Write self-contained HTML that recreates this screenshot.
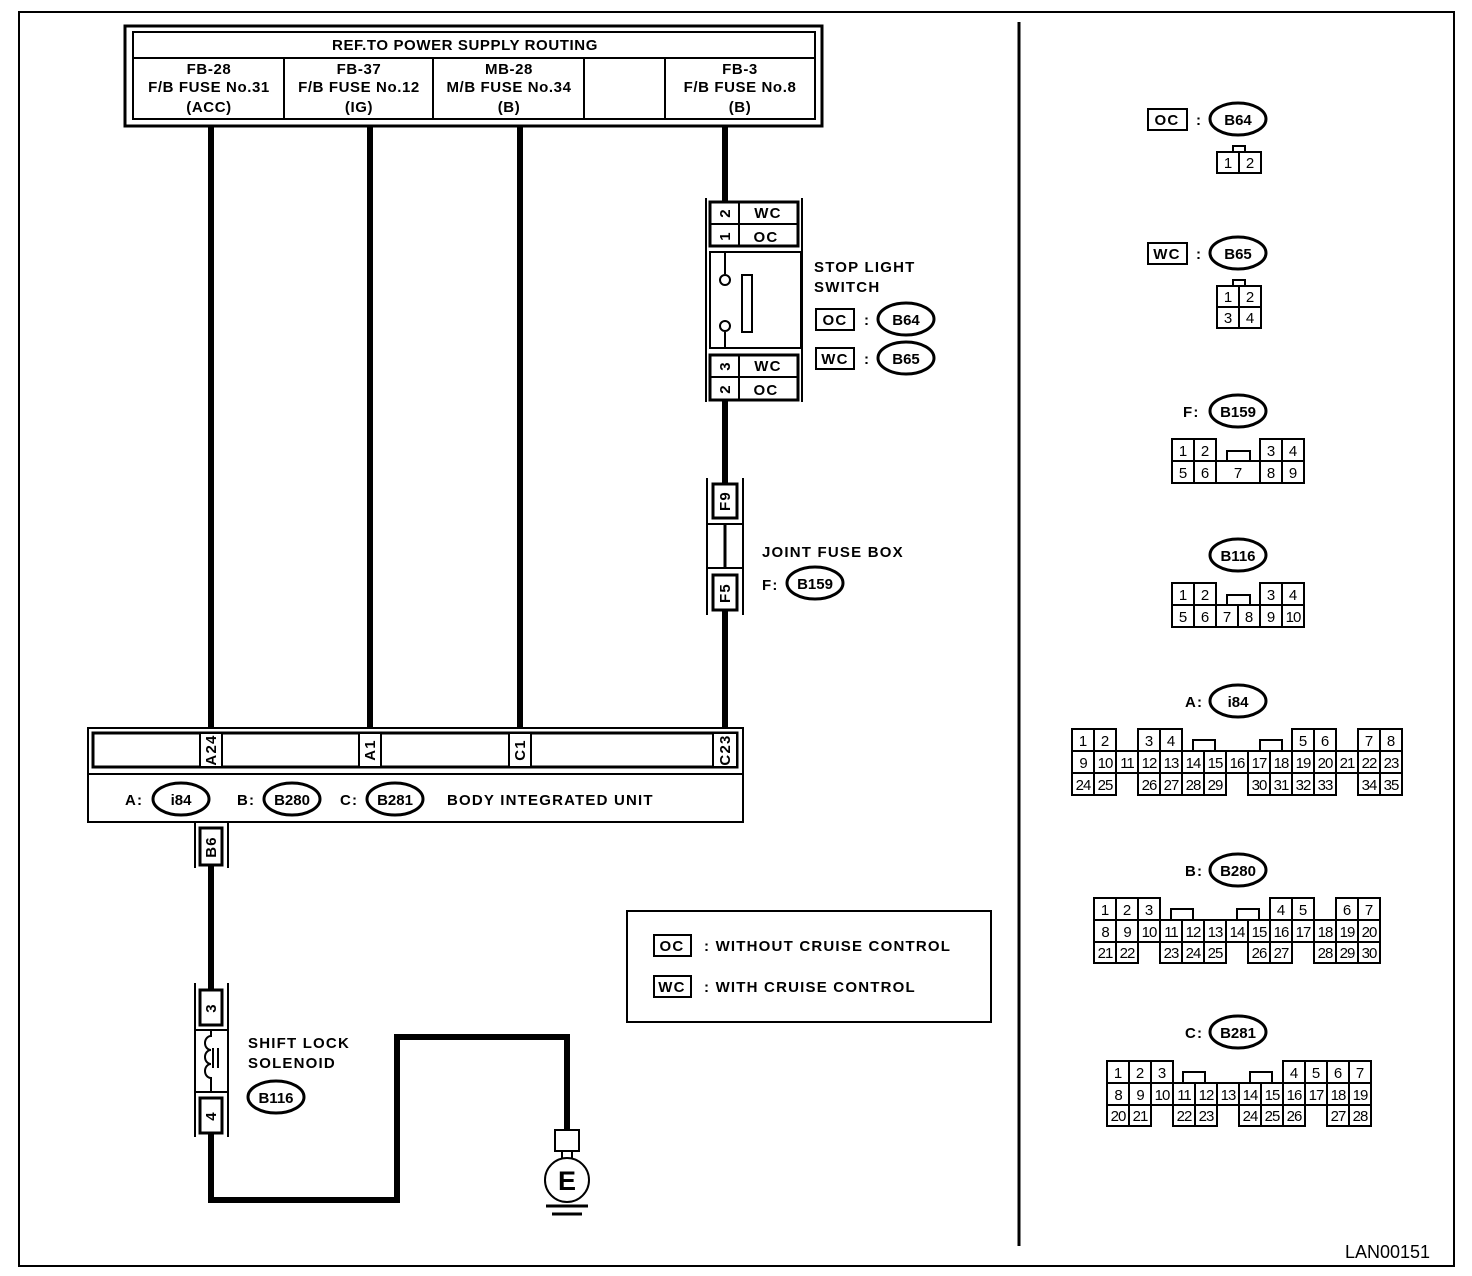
<!DOCTYPE html>
<html><head><meta charset="utf-8"><style>
html,body{margin:0;padding:0;background:#fff}
svg{display:block}
.b{font-family:"Liberation Sans",Arial,sans-serif;font-weight:bold;font-size:15px;letter-spacing:1.2px}
.n{font-family:"Liberation Sans",Arial,sans-serif;font-size:15px}
.c rect{fill:#fff;stroke:#000;stroke-width:2}
.c text{font-family:"Liberation Sans",Arial,sans-serif;font-size:15px;text-anchor:middle}
</style></head><body>
<svg width="1472" height="1276" viewBox="0 0 1472 1276" xmlns="http://www.w3.org/2000/svg">
<rect x="19" y="12" width="1435" height="1254" fill="none" stroke="#000" stroke-width="2"/>
<line x1="1019" y1="22" x2="1019" y2="1246" stroke="#000" stroke-width="3"/>
<text x="1345" y="1258" class="n" style="font-size:18px">LAN00151</text>

<g stroke="#000" stroke-width="6" fill="none">
<line x1="211" y1="124" x2="211" y2="735"/>
<line x1="370" y1="124" x2="370" y2="735"/>
<line x1="520" y1="124" x2="520" y2="735"/>
<line x1="725" y1="124" x2="725" y2="202"/>
<line x1="725" y1="400" x2="725" y2="483"/>
<line x1="725" y1="610" x2="725" y2="735"/>
<line x1="211" y1="865" x2="211" y2="990"/>
<polyline points="211,1133 211,1200 397,1200 397,1037 567,1037 567,1132"/>
</g>

<rect x="125" y="26" width="697" height="100" fill="#fff" stroke="#000" stroke-width="3"/>
<rect x="133" y="32" width="682" height="87" fill="none" stroke="#000" stroke-width="2"/>
<line x1="133" y1="58" x2="815" y2="58" stroke="#000" stroke-width="2"/>
<g stroke="#000" stroke-width="2"><line x1="284" y1="58" x2="284" y2="119"/><line x1="433" y1="58" x2="433" y2="119"/><line x1="584" y1="58" x2="584" y2="119"/><line x1="665" y1="58" x2="665" y2="119"/></g>
<g class="b" text-anchor="middle" style="letter-spacing:0.6px">
<text x="465" y="50">REF.TO POWER SUPPLY ROUTING</text>
<text x="209" y="74">FB-28</text><text x="209" y="92">F/B FUSE No.31</text><text x="209" y="112">(ACC)</text>
<text x="359" y="74">FB-37</text><text x="359" y="92">F/B FUSE No.12</text><text x="359" y="112">(IG)</text>
<text x="509" y="74">MB-28</text><text x="509" y="92">M/B FUSE No.34</text><text x="509" y="112">(B)</text>
<text x="740" y="74">FB-3</text><text x="740" y="92">F/B FUSE No.8</text><text x="740" y="112">(B)</text>
</g>

<g stroke="#000" fill="none">
<line x1="706" y1="198" x2="706" y2="402" stroke-width="2"/>
<line x1="802" y1="198" x2="802" y2="402" stroke-width="2"/>
<rect x="710" y="202" width="88" height="44" stroke-width="3" fill="#fff"/>
<line x1="710" y1="224" x2="798" y2="224" stroke-width="2"/>
<line x1="739" y1="202" x2="739" y2="246" stroke-width="2"/>
<rect x="710" y="252" width="91" height="96" stroke-width="2"/>
<rect x="710" y="355" width="88" height="45" stroke-width="3" fill="#fff"/>
<line x1="710" y1="377" x2="798" y2="377" stroke-width="2"/>
<line x1="739" y1="355" x2="739" y2="400" stroke-width="2"/>
<line x1="725" y1="252" x2="725" y2="274" stroke-width="2"/>
<circle cx="725" cy="280" r="5" stroke-width="2"/>
<line x1="725" y1="332" x2="725" y2="348" stroke-width="2"/>
<circle cx="725" cy="326" r="5" stroke-width="2"/>
<rect x="742" y="275" width="10" height="57" stroke-width="2"/>
</g>
<g class="b">
<text x="768" y="218" text-anchor="middle">WC</text><text x="766" y="242" text-anchor="middle">OC</text>
<text x="768" y="371" text-anchor="middle">WC</text><text x="766" y="395" text-anchor="middle">OC</text>
<text transform="translate(730,213) rotate(-90)" text-anchor="middle">2</text>
<text transform="translate(730,236) rotate(-90)" text-anchor="middle">1</text>
<text transform="translate(730,366) rotate(-90)" text-anchor="middle">3</text>
<text transform="translate(730,389) rotate(-90)" text-anchor="middle">2</text>
<text x="814" y="272">STOP LIGHT</text><text x="814" y="292">SWITCH</text>
</g>
<g stroke="#000" stroke-width="2" fill="#fff">
<rect x="816" y="309" width="38" height="21"/><rect x="816" y="348" width="38" height="21"/>
<ellipse cx="906" cy="319" rx="28" ry="16" stroke-width="3"/><ellipse cx="906" cy="358" rx="28" ry="16" stroke-width="3"/>
</g>
<g class="b">
<text x="835" y="325" text-anchor="middle">OC</text><text x="864" y="325">:</text><text x="906" y="325" text-anchor="middle" style="letter-spacing:0">B64</text>
<text x="835" y="364" text-anchor="middle">WC</text><text x="864" y="364">:</text><text x="906" y="364" text-anchor="middle" style="letter-spacing:0">B65</text>
</g>

<g stroke="#000" stroke-width="2" fill="#fff">
<line x1="707" y1="478" x2="707" y2="615"/><line x1="743" y1="478" x2="743" y2="615"/>
<rect x="713" y="484" width="24" height="34" stroke-width="3"/>
<rect x="713" y="575" width="24" height="35" stroke-width="3"/>
<line x1="707" y1="524" x2="743" y2="524"/><line x1="707" y1="568" x2="743" y2="568"/>
<line x1="725" y1="524" x2="725" y2="568" stroke-width="3"/>
</g>
<g class="b">
<text transform="translate(730,501) rotate(-90)" text-anchor="middle">F9</text>
<text transform="translate(730,593) rotate(-90)" text-anchor="middle">F5</text>
</g>
<g class="b"><text x="762" y="557">JOINT FUSE BOX</text><text x="762" y="590">F:</text></g>
<ellipse cx="815" cy="583" rx="28" ry="16" fill="#fff" stroke="#000" stroke-width="3"/>
<text x="815" y="589" class="b" text-anchor="middle" style="letter-spacing:0">B159</text>

<rect x="88" y="728" width="655" height="94" fill="#fff" stroke="#000" stroke-width="2"/>
<rect x="93" y="733" width="644" height="34" fill="none" stroke="#000" stroke-width="3"/>
<line x1="88" y1="774" x2="743" y2="774" stroke="#000" stroke-width="2"/>
<g stroke="#000" stroke-width="2" fill="#fff">
<rect x="200" y="733" width="22" height="34"/><rect x="359" y="733" width="22" height="34"/>
<rect x="509" y="733" width="22" height="34"/><rect x="713" y="733" width="24" height="34"/>
</g>
<g class="b">
<text transform="translate(216,750) rotate(-90)" text-anchor="middle">A24</text>
<text transform="translate(375,750) rotate(-90)" text-anchor="middle">A1</text>
<text transform="translate(525,750) rotate(-90)" text-anchor="middle">C1</text>
<text transform="translate(730,750) rotate(-90)" text-anchor="middle">C23</text>
</g>
<g stroke="#000" stroke-width="3" fill="#fff">
<ellipse cx="181" cy="799" rx="28" ry="16"/><ellipse cx="292" cy="799" rx="28" ry="16"/><ellipse cx="395" cy="799" rx="28" ry="16"/>
</g>
<g class="b">
<text x="125" y="805">A:</text><text x="181" y="805" text-anchor="middle" style="letter-spacing:0">i84</text>
<text x="237" y="805">B:</text><text x="292" y="805" text-anchor="middle" style="letter-spacing:0">B280</text>
<text x="340" y="805">C:</text><text x="395" y="805" text-anchor="middle" style="letter-spacing:0">B281</text>
<text x="447" y="805">BODY INTEGRATED UNIT</text>
</g>

<g stroke="#000" stroke-width="2" fill="#fff">
<line x1="195" y1="823" x2="195" y2="868"/><line x1="228" y1="823" x2="228" y2="868"/>
<rect x="200" y="828" width="22" height="37" stroke-width="3"/>
</g>
<text transform="translate(216,847) rotate(-90)" class="b" text-anchor="middle">B6</text>

<g stroke="#000" stroke-width="2" fill="#fff">
<line x1="195" y1="983" x2="195" y2="1137"/><line x1="228" y1="983" x2="228" y2="1137"/>
<rect x="200" y="990" width="22" height="35" stroke-width="3"/>
<line x1="195" y1="1030" x2="228" y2="1030"/><line x1="195" y1="1092" x2="228" y2="1092"/>
<rect x="200" y="1098" width="22" height="35" stroke-width="3"/>
<path d="M211,1030 V1036 a6,7 0 0 0 0,14 a6,7 0 0 0 0,14 a6,7 0 0 0 0,14 V1092" fill="none"/>
<line x1="213" y1="1048" x2="213" y2="1068"/><line x1="218" y1="1048" x2="218" y2="1068"/>
</g>
<g class="b">
<text transform="translate(216,1008) rotate(-90)" text-anchor="middle">3</text>
<text transform="translate(216,1116) rotate(-90)" text-anchor="middle">4</text>
</g>
<g class="b"><text x="248" y="1048">SHIFT LOCK</text><text x="248" y="1068">SOLENOID</text></g>
<ellipse cx="276" cy="1097" rx="28" ry="16" fill="#fff" stroke="#000" stroke-width="3"/>
<text x="276" y="1103" class="b" text-anchor="middle" style="letter-spacing:0">B116</text>

<g stroke="#000" stroke-width="2" fill="#fff">
<rect x="555" y="1130" width="24" height="21"/>
<line x1="562" y1="1151" x2="562" y2="1158"/><line x1="572" y1="1151" x2="572" y2="1158"/>
<circle cx="567" cy="1180" r="22"/>
<line x1="546" y1="1206" x2="588" y2="1206" stroke-width="3"/>
<line x1="552" y1="1214" x2="582" y2="1214" stroke-width="3"/>
</g>
<text x="567" y="1190" class="b" text-anchor="middle" style="font-size:27px;letter-spacing:0">E</text>

<rect x="627" y="911" width="364" height="111" fill="#fff" stroke="#000" stroke-width="2"/>
<rect x="654" y="935" width="37" height="21" fill="#fff" stroke="#000" stroke-width="2"/>
<rect x="654" y="976" width="37" height="21" fill="#fff" stroke="#000" stroke-width="2"/>
<g class="b">
<text x="672" y="951" text-anchor="middle">OC</text><text x="704" y="951">: WITHOUT CRUISE CONTROL</text>
<text x="672" y="992" text-anchor="middle">WC</text><text x="704" y="992">: WITH CRUISE CONTROL</text>
</g>

<g stroke="#000" stroke-width="2" fill="#fff">
<rect x="1148" y="109" width="39" height="21"/><rect x="1148" y="243" width="39" height="21"/>
</g>
<g stroke="#000" stroke-width="3" fill="#fff">
<ellipse cx="1238" cy="119" rx="28" ry="16"/><ellipse cx="1238" cy="253" rx="28" ry="16"/>
<ellipse cx="1238" cy="411" rx="28" ry="16"/><ellipse cx="1238" cy="555" rx="28" ry="16"/>
<ellipse cx="1238" cy="701" rx="28" ry="16"/><ellipse cx="1238" cy="870" rx="28" ry="16"/>
<ellipse cx="1238" cy="1032" rx="28" ry="16"/>
</g>
<g class="b">
<text x="1167" y="125" text-anchor="middle">OC</text><text x="1196" y="125">:</text><text x="1238" y="125" text-anchor="middle" style="letter-spacing:0">B64</text>
<text x="1167" y="259" text-anchor="middle">WC</text><text x="1196" y="259">:</text><text x="1238" y="259" text-anchor="middle" style="letter-spacing:0">B65</text>
<text x="1183" y="417">F:</text><text x="1238" y="417" text-anchor="middle" style="letter-spacing:0">B159</text>
<text x="1238" y="561" text-anchor="middle" style="letter-spacing:0">B116</text>
<text x="1185" y="707">A:</text><text x="1238" y="707" text-anchor="middle" style="letter-spacing:0">i84</text>
<text x="1185" y="876">B:</text><text x="1238" y="876" text-anchor="middle" style="letter-spacing:0">B280</text>
<text x="1185" y="1038">C:</text><text x="1238" y="1038" text-anchor="middle" style="letter-spacing:0">B281</text>
</g>

<g class="c">
<path d="M1233,152 V146 H1245 V152" fill="none" stroke="#000" stroke-width="2"/>
<rect x="1217" y="152" width="22" height="21"/><rect x="1239" y="152" width="22" height="21"/>
<text x="1228" y="168">1</text><text x="1250" y="168">2</text>
<path d="M1233,286 V280 H1245 V286" fill="none" stroke="#000" stroke-width="2"/>
<rect x="1217" y="286" width="22" height="21"/><rect x="1239" y="286" width="22" height="21"/>
<rect x="1217" y="307" width="22" height="21"/><rect x="1239" y="307" width="22" height="21"/>
<text x="1228" y="302">1</text><text x="1250" y="302">2</text><text x="1228" y="323">3</text><text x="1250" y="323">4</text>
<path d="M1227,461 V451 H1250 V461" fill="none" stroke="#000" stroke-width="2"/>
<rect x="1172" y="439" width="22" height="22"/><rect x="1194" y="439" width="22" height="22"/>
<rect x="1260" y="439" width="22" height="22"/><rect x="1282" y="439" width="22" height="22"/>
<rect x="1172" y="461" width="22" height="22"/><rect x="1194" y="461" width="22" height="22"/>
<rect x="1216" y="461" width="44" height="22"/>
<rect x="1260" y="461" width="22" height="22"/><rect x="1282" y="461" width="22" height="22"/>
<text x="1183" y="456">1</text><text x="1205" y="456">2</text><text x="1271" y="456">3</text><text x="1293" y="456">4</text>
<text x="1183" y="478">5</text><text x="1205" y="478">6</text><text x="1238" y="478">7</text><text x="1271" y="478">8</text><text x="1293" y="478">9</text>
<path d="M1227,605 V595 H1250 V605" fill="none" stroke="#000" stroke-width="2"/>
<rect x="1172" y="583" width="22" height="22"/><rect x="1194" y="583" width="22" height="22"/>
<rect x="1260" y="583" width="22" height="22"/><rect x="1282" y="583" width="22" height="22"/>
<rect x="1172" y="605" width="22" height="22"/><rect x="1194" y="605" width="22" height="22"/><rect x="1216" y="605" width="22" height="22"/>
<rect x="1238" y="605" width="22" height="22"/><rect x="1260" y="605" width="22" height="22"/><rect x="1282" y="605" width="22" height="22"/>
<text x="1183" y="600">1</text><text x="1205" y="600">2</text><text x="1271" y="600">3</text><text x="1293" y="600">4</text>
<text x="1183" y="622">5</text><text x="1205" y="622">6</text><text x="1227" y="622">7</text><text x="1249" y="622">8</text><text x="1271" y="622">9</text><text x="1293" y="622" letter-spacing="-1">10</text>

<path d="M1193,751 V740 H1215 V751 M1260,751 V740 H1282 V751" fill="none" stroke="#000" stroke-width="2"/>
<rect x="1072" y="729" width="22" height="22"/><rect x="1094" y="729" width="22" height="22"/>
<rect x="1138" y="729" width="22" height="22"/><rect x="1160" y="729" width="22" height="22"/>
<rect x="1292" y="729" width="22" height="22"/><rect x="1314" y="729" width="22" height="22"/>
<rect x="1358" y="729" width="22" height="22"/><rect x="1380" y="729" width="22" height="22"/>
<text x="1083" y="746">1</text><text x="1105" y="746">2</text><text x="1149" y="746">3</text><text x="1171" y="746">4</text>
<text x="1303" y="746">5</text><text x="1325" y="746">6</text><text x="1369" y="746">7</text><text x="1391" y="746">8</text>
<rect x="1072" y="751" width="22" height="22"/><rect x="1094" y="751" width="22" height="22"/><rect x="1116" y="751" width="22" height="22"/>
<rect x="1138" y="751" width="22" height="22"/><rect x="1160" y="751" width="22" height="22"/><rect x="1182" y="751" width="22" height="22"/>
<rect x="1204" y="751" width="22" height="22"/><rect x="1226" y="751" width="22" height="22"/><rect x="1248" y="751" width="22" height="22"/>
<rect x="1270" y="751" width="22" height="22"/><rect x="1292" y="751" width="22" height="22"/><rect x="1314" y="751" width="22" height="22"/>
<rect x="1336" y="751" width="22" height="22"/><rect x="1358" y="751" width="22" height="22"/><rect x="1380" y="751" width="22" height="22"/>
<g letter-spacing="-1">
<text x="1083" y="768">9</text><text x="1105" y="768">10</text><text x="1127" y="768">11</text><text x="1149" y="768">12</text><text x="1171" y="768">13</text>
<text x="1193" y="768">14</text><text x="1215" y="768">15</text><text x="1237" y="768">16</text><text x="1259" y="768">17</text><text x="1281" y="768">18</text>
<text x="1303" y="768">19</text><text x="1325" y="768">20</text><text x="1347" y="768">21</text><text x="1369" y="768">22</text><text x="1391" y="768">23</text>
</g>
<rect x="1072" y="773" width="22" height="22"/><rect x="1094" y="773" width="22" height="22"/>
<rect x="1138" y="773" width="22" height="22"/><rect x="1160" y="773" width="22" height="22"/><rect x="1182" y="773" width="22" height="22"/><rect x="1204" y="773" width="22" height="22"/>
<rect x="1248" y="773" width="22" height="22"/><rect x="1270" y="773" width="22" height="22"/><rect x="1292" y="773" width="22" height="22"/><rect x="1314" y="773" width="22" height="22"/>
<rect x="1358" y="773" width="22" height="22"/><rect x="1380" y="773" width="22" height="22"/>
<g letter-spacing="-1">
<text x="1083" y="790">24</text><text x="1105" y="790">25</text><text x="1149" y="790">26</text><text x="1171" y="790">27</text><text x="1193" y="790">28</text><text x="1215" y="790">29</text>
<text x="1259" y="790">30</text><text x="1281" y="790">31</text><text x="1303" y="790">32</text><text x="1325" y="790">33</text><text x="1369" y="790">34</text><text x="1391" y="790">35</text>
</g>

<path d="M1171,920 V909 H1193 V920 M1237,920 V909 H1259 V920" fill="none" stroke="#000" stroke-width="2"/>
<rect x="1094" y="898" width="22" height="22"/><rect x="1116" y="898" width="22" height="22"/><rect x="1138" y="898" width="22" height="22"/>
<rect x="1270" y="898" width="22" height="22"/><rect x="1292" y="898" width="22" height="22"/>
<rect x="1336" y="898" width="22" height="22"/><rect x="1358" y="898" width="22" height="22"/>
<text x="1105" y="915">1</text><text x="1127" y="915">2</text><text x="1149" y="915">3</text><text x="1281" y="915">4</text><text x="1303" y="915">5</text><text x="1347" y="915">6</text><text x="1369" y="915">7</text>
<rect x="1094" y="920" width="22" height="22"/><rect x="1116" y="920" width="22" height="22"/><rect x="1138" y="920" width="22" height="22"/>
<rect x="1160" y="920" width="22" height="22"/><rect x="1182" y="920" width="22" height="22"/><rect x="1204" y="920" width="22" height="22"/>
<rect x="1226" y="920" width="22" height="22"/><rect x="1248" y="920" width="22" height="22"/><rect x="1270" y="920" width="22" height="22"/>
<rect x="1292" y="920" width="22" height="22"/><rect x="1314" y="920" width="22" height="22"/><rect x="1336" y="920" width="22" height="22"/><rect x="1358" y="920" width="22" height="22"/>
<g letter-spacing="-1">
<text x="1105" y="937">8</text><text x="1127" y="937">9</text><text x="1149" y="937">10</text><text x="1171" y="937">11</text><text x="1193" y="937">12</text>
<text x="1215" y="937">13</text><text x="1237" y="937">14</text><text x="1259" y="937">15</text><text x="1281" y="937">16</text><text x="1303" y="937">17</text>
<text x="1325" y="937">18</text><text x="1347" y="937">19</text><text x="1369" y="937">20</text>
</g>
<rect x="1094" y="942" width="22" height="21"/><rect x="1116" y="942" width="22" height="21"/>
<rect x="1160" y="942" width="22" height="21"/><rect x="1182" y="942" width="22" height="21"/><rect x="1204" y="942" width="22" height="21"/>
<rect x="1248" y="942" width="22" height="21"/><rect x="1270" y="942" width="22" height="21"/>
<rect x="1314" y="942" width="22" height="21"/><rect x="1336" y="942" width="22" height="21"/><rect x="1358" y="942" width="22" height="21"/>
<g letter-spacing="-1">
<text x="1105" y="958">21</text><text x="1127" y="958">22</text><text x="1171" y="958">23</text><text x="1193" y="958">24</text><text x="1215" y="958">25</text>
<text x="1259" y="958">26</text><text x="1281" y="958">27</text><text x="1325" y="958">28</text><text x="1347" y="958">29</text><text x="1369" y="958">30</text>
</g>

<path d="M1183,1083 V1072 H1205 V1083 M1250,1083 V1072 H1272 V1083" fill="none" stroke="#000" stroke-width="2"/>
<rect x="1107" y="1061" width="22" height="22"/><rect x="1129" y="1061" width="22" height="22"/><rect x="1151" y="1061" width="22" height="22"/>
<rect x="1283" y="1061" width="22" height="22"/><rect x="1305" y="1061" width="22" height="22"/><rect x="1327" y="1061" width="22" height="22"/><rect x="1349" y="1061" width="22" height="22"/>
<text x="1118" y="1078">1</text><text x="1140" y="1078">2</text><text x="1162" y="1078">3</text><text x="1294" y="1078">4</text><text x="1316" y="1078">5</text><text x="1338" y="1078">6</text><text x="1360" y="1078">7</text>
<rect x="1107" y="1083" width="22" height="22"/><rect x="1129" y="1083" width="22" height="22"/><rect x="1151" y="1083" width="22" height="22"/>
<rect x="1173" y="1083" width="22" height="22"/><rect x="1195" y="1083" width="22" height="22"/><rect x="1217" y="1083" width="22" height="22"/>
<rect x="1239" y="1083" width="22" height="22"/><rect x="1261" y="1083" width="22" height="22"/><rect x="1283" y="1083" width="22" height="22"/>
<rect x="1305" y="1083" width="22" height="22"/><rect x="1327" y="1083" width="22" height="22"/><rect x="1349" y="1083" width="22" height="22"/>
<g letter-spacing="-1">
<text x="1118" y="1100">8</text><text x="1140" y="1100">9</text><text x="1162" y="1100">10</text><text x="1184" y="1100">11</text><text x="1206" y="1100">12</text><text x="1228" y="1100">13</text>
<text x="1250" y="1100">14</text><text x="1272" y="1100">15</text><text x="1294" y="1100">16</text><text x="1316" y="1100">17</text><text x="1338" y="1100">18</text><text x="1360" y="1100">19</text>
</g>
<rect x="1107" y="1105" width="22" height="21"/><rect x="1129" y="1105" width="22" height="21"/>
<rect x="1173" y="1105" width="22" height="21"/><rect x="1195" y="1105" width="22" height="21"/>
<rect x="1239" y="1105" width="22" height="21"/><rect x="1261" y="1105" width="22" height="21"/><rect x="1283" y="1105" width="22" height="21"/>
<rect x="1327" y="1105" width="22" height="21"/><rect x="1349" y="1105" width="22" height="21"/>
<g letter-spacing="-1">
<text x="1118" y="1121">20</text><text x="1140" y="1121">21</text><text x="1184" y="1121">22</text><text x="1206" y="1121">23</text>
<text x="1250" y="1121">24</text><text x="1272" y="1121">25</text><text x="1294" y="1121">26</text><text x="1338" y="1121">27</text><text x="1360" y="1121">28</text>
</g>
</g>
</svg>
</body></html>
